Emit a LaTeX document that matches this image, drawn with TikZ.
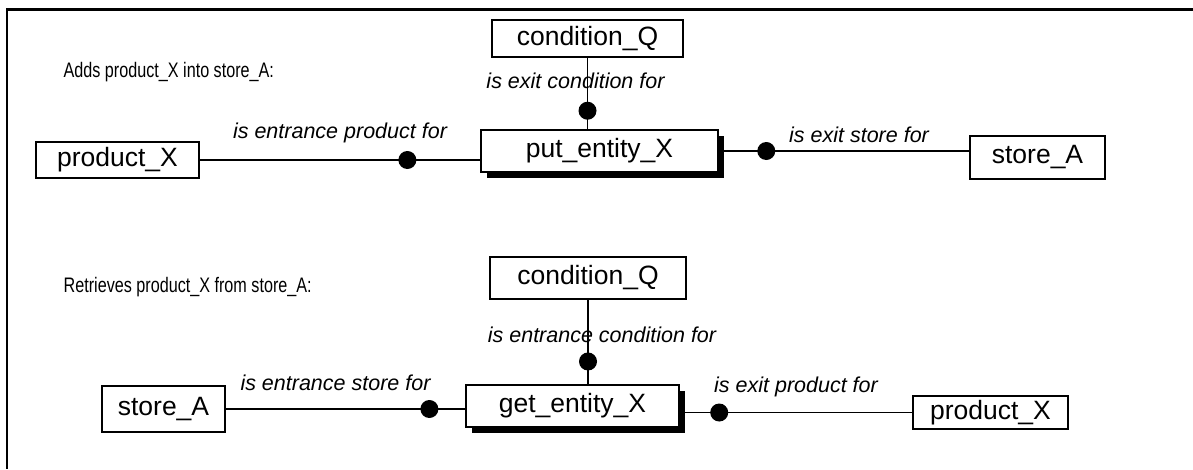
\documentclass[tikz,border=0pt]{standalone}
\usepackage{fontspec}
\setmainfont{Liberation Sans}
\newfontfamily\narrowfont[FakeStretch=0.77]{Liberation Sans}
\usetikzlibrary{positioning, shadows}

\begin{document}
\begin{tikzpicture}[x=1pt, y=-1pt, line width=1.3pt,
  box/.style={draw, rectangle, inner sep=0pt, fill=white, font=\fontsize{26.5}{30}\selectfont},
  entity/.style={box, drop shadow={shadow xshift=6pt, shadow yshift=-6pt, fill=black, opacity=1}},
  dot/.style={circle, fill=black, inner sep=0pt, minimum size=18pt},
  lbl/.style={font=\fontsize{21.5}{24}\selectfont\itshape, inner sep=1pt},
  title/.style={anchor=west, inner sep=0pt, font=\narrowfont\fontsize{21}{23}\selectfont}]
  \useasboundingbox (0,0) rectangle (1193,469);
  \draw[line width=2.5pt] (1193,9.5) -- (7,9.5) -- (7,469);

  % put
  \node[title] (addtxt) at (63,72) {Adds product\_X into store\_A:};
  \node[box, minimum width=191pt, minimum height=37pt] (condQ1) at (587.5,38.5) {condition\_Q};
  \node[entity, minimum width=237pt, minimum height=42pt] (put) at (599.5,151) {put\_entity\_X};
  \node[box, minimum width=163pt, minimum height=36pt] (prodX1) at (117.5,160) {product\_X};
  \node[box, minimum width=135pt, minimum height=43pt] (storeA1) at (1037.5,157.5) {store\_A};

  \path
    (prodX1) edge node[dot, pos=0.74] {} node[lbl, above=15pt] {is entrance product for} (prodX1 -| put.west)
    (put) edge node[dot, pos=0.19] {} node[lbl, above=7pt, xshift=15pt] {is exit store for} (put -| storeA1.west)
    (condQ1) edge node[dot, pos=0.74] {} node[lbl, pos=0.33, xshift=-12pt] {is exit condition for} (condQ1 |- put.north);

  % get
  \node[title] (rettxt) at (63,287) {Retrieves product\_X from store\_A:};
  \node[box, minimum width=196pt, minimum height=42pt] (condQ2) at (588,278) {condition\_Q};
  \node[entity, minimum width=213pt, minimum height=42pt] (get) at (572.5,406) {get\_entity\_X};
  \node[box, minimum width=123pt, minimum height=46pt] (storeA2) at (163.5,409) {store\_A};
  \node[box, minimum width=155pt, minimum height=33pt] (prodX2) at (990.5,412.5) {product\_X};

  \path
    (storeA2) edge node[dot, pos=0.85] {} node[lbl, above=17pt, xshift=-10pt] {is entrance store for} (storeA2 -| get.west)
    (get.east |- prodX2) edge node[dot, pos=0.17] {} node[lbl, above=13.5pt] {is exit product for} (prodX2)
    (condQ2) edge node[dot, pos=0.73] {} node[lbl, pos=0.41, xshift=14pt] {is entrance condition for} (condQ2 |- get.north);
\end{tikzpicture}
\end{document}
